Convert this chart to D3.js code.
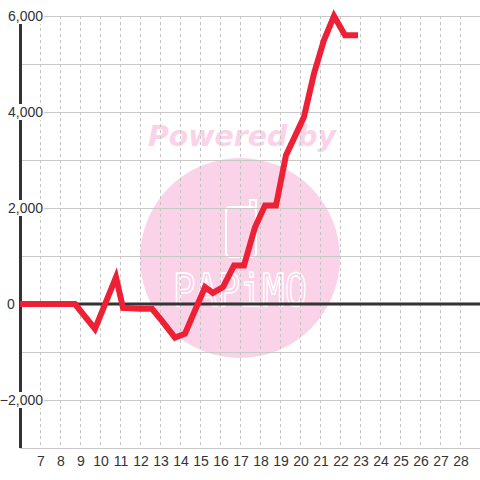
<!DOCTYPE html>
<html><head><meta charset="utf-8">
<script src="https://cdn.jsdelivr.net/npm/d3@7"></script>
<style>html,body{margin:0;padding:0;background:#fff;}svg{display:block;}</style>
</head><body>
<svg id="c" width="480" height="480"></svg>
<script>
const days = [6, 8.75, 9.75, 10.8, 11.15, 12, 12.6, 13.1, 13.75, 14.25, 15.25, 15.65, 16.15, 16.7, 17.2, 17.75, 18.25, 18.8, 19.3, 19.7, 20.2, 20.7, 21.2, 21.7, 22.25, 22.9];
const values = [0, 0, -520, 560, -80, -100, -100, -350, -700, -620, 350, 230, 350, 800, 800, 1600, 2050, 2050, 3100, 3450, 3900, 4800, 5500, 6000, 5600, 5600];
const xTickLabels = [7,8,9,10,11,12,13,14,15,16,17,18,19,20,21,22,23,24,25,26,27,28];
const yTickLabels = [-2000, 0, 2000, 4000, 6000];
const yGrid = [-3000,-2000,-1000,1000,2000,3000,4000,5000,6000];

const svg = d3.select("#c");
const x = d3.scaleLinear().domain([6, 29]).range([20, 480]);
const y = d3.scaleLinear().domain([-3000, 6000]).range([448, 16]);
const pink = "#fbd3e9";

// watermark
const wm = svg.append("g");
wm.append("circle").attr("cx", 240).attr("cy", 258).attr("r", 100).attr("fill", pink);
wm.append("text").attr("x", 242).attr("y", 146).attr("text-anchor", "middle")
  .attr("font-family", "DejaVu Sans, sans-serif").attr("font-weight", "bold").attr("font-style", "italic")
  .attr("font-size", 29).attr("fill", pink).attr("textLength", 188).attr("lengthAdjust", "spacingAndGlyphs")
  .text("Powered by");
wm.append("rect").attr("x", 226).attr("y", 207).attr("width", 30).attr("height", 50).attr("rx", 4)
  .attr("fill", "none").attr("stroke", "#fff").attr("stroke-width", 2);
wm.append("rect").attr("x", 250).attr("y", 200).attr("width", 6).attr("height", 8)
  .attr("fill", "none").attr("stroke", "#fff").attr("stroke-width", 2);
wm.append("text").attr("x", 240).attr("y", 306).attr("text-anchor", "middle")
  .attr("font-family", "DejaVu Sans Mono, monospace").attr("font-size", 44)
  .attr("fill", "none").attr("stroke", "#fff").attr("stroke-width", 1.5)
  .attr("textLength", 134).attr("lengthAdjust", "spacingAndGlyphs").text("PAPiMO");

// grid
const g = svg.append("g");
g.selectAll("line.v").data(d3.range(7, 29)).join("line")
  .attr("x1", d => x(d)).attr("x2", d => x(d)).attr("y1", y(6000)).attr("y2", y(-3000))
  .attr("stroke", "#c4c4c4").attr("stroke-width", 1).attr("stroke-dasharray", "3,3")
  .attr("shape-rendering", "crispEdges");
g.selectAll("line.h").data(yGrid).join("line")
  .attr("x1", x(6)).attr("x2", 480).attr("y1", d => Math.round(y(d)) + 0.5).attr("y2", d => Math.round(y(d)) + 0.5)
  .attr("stroke", "#c8c8c8").attr("stroke-width", 1);

// axes lines
svg.append("line").attr("x1", x(6)).attr("x2", 480).attr("y1", y(0)).attr("y2", y(0))
  .attr("stroke", "#333").attr("stroke-width", 3);
svg.append("line").attr("x1", x(6) + 0.5).attr("x2", x(6) + 0.5).attr("y1", y(6000)).attr("y2", y(-3000))
  .attr("stroke", "#333").attr("stroke-width", 3);

// y labels
const fmt = d3.format(",");
const yl = svg.append("g").selectAll("g").data(yTickLabels).join("g")
  .attr("transform", d => d === 0 ? `translate(7,${y(d)})` : `translate(43,${y(d)})`);
yl.each(function(d) {
  const gg = d3.select(this);
  const t = gg.append("text").attr("text-anchor", d === 0 ? "start" : "end").attr("dy", "0.35em")
    .attr("font-family", "Liberation Sans, Arial, sans-serif").attr("font-size", 14)
    .attr("fill", "#333").text(fmt(d));
  const bb = t.node().getBBox();
  gg.insert("rect", "text").attr("x", bb.x - 2).attr("y", -8).attr("width", bb.width + 3).attr("height", 16)
    .attr("fill", "#fff");
});

// series line
const line = d3.line().x((d, i) => x(days[i])).y(d => y(d));
svg.append("path").datum(values).attr("d", line).attr("fill", "none")
  .attr("stroke", "#ee2035").attr("stroke-width", 6).attr("stroke-linejoin", "miter");

// x labels
svg.append("g").selectAll("text").data(xTickLabels).join("text")
  .attr("x", d => x(d) + 1).attr("y", 466).attr("text-anchor", "middle")
  .attr("font-family", "Liberation Sans, Arial, sans-serif").attr("font-size", 14)
  .attr("fill", "#333").text(d => d);
</script>
</body></html>
